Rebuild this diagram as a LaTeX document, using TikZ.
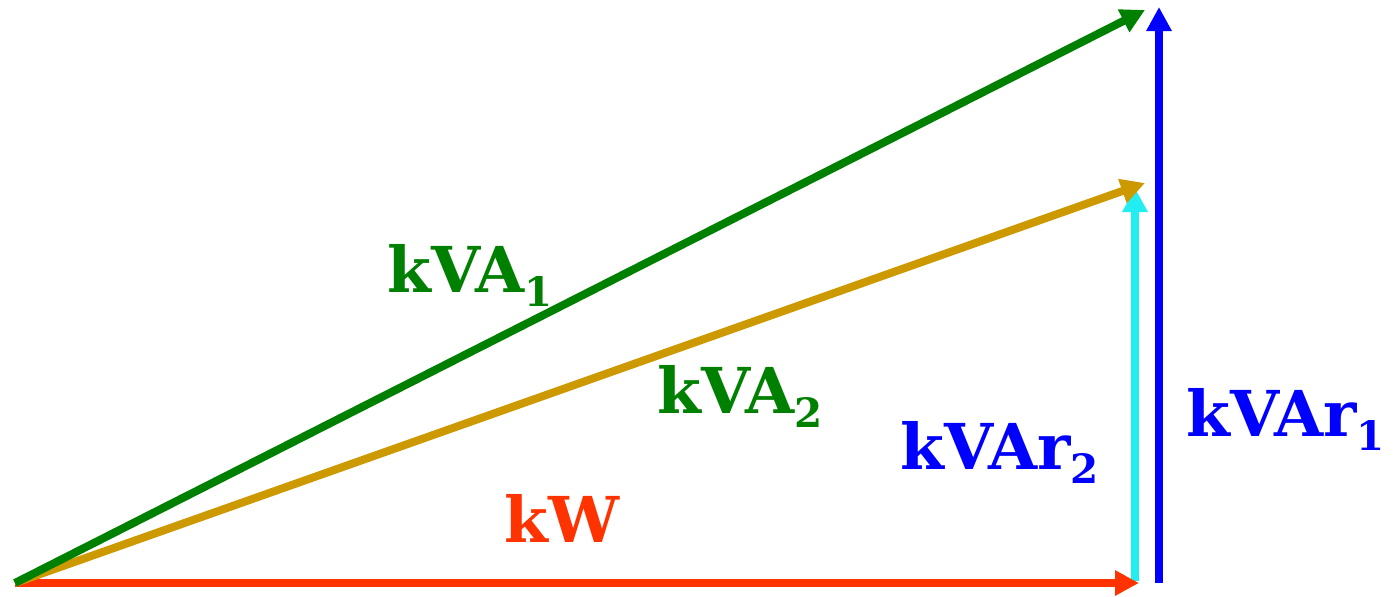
\documentclass[tikz,border=0pt]{standalone}
\usepackage{fontspec}
\setmainfont{DejaVu Serif}
\usetikzlibrary{arrows.meta}
\definecolor{VecGreen}{HTML}{008000}
\definecolor{VecGold}{HTML}{CC9900}
\definecolor{VecRed}{HTML}{FF3300}
\definecolor{VecCyan}{HTML}{22EEF2}
\definecolor{VecBlue}{HTML}{0000FF}
\newcommand{\lowidx}[1]{\raisebox{-8.5pt}{\fontsize{23pt}{23pt}\selectfont #1}}

\begin{document}
\begin{tikzpicture}[x=0.02cm,y=-0.02cm,
  vec/.style={line width=0.16cm,-{Triangle[length=0.48cm,width=0.48cm]}},
  lbl/.style={anchor=base west,inner sep=0pt,
              font=\fontsize{36pt}{36pt}\selectfont\bfseries}
]
  \useasboundingbox (0,0) rectangle (1393,596);
  \coordinate (O) at (15,583);
  \coordinate (kwend) at (1139,583);
  \coordinate (kvaonetip) at (1145,10);
  \coordinate (kvatwotip) at (1145,183);
  \coordinate (qtwobase) at (1135,581);
  \coordinate (qtwotip) at (1135,188);
  \coordinate (qonebase) at (1159,583);
  \coordinate (qonetip) at (1159,7);
  \draw[vec,VecCyan] (qtwobase)--(qtwotip);
  \draw[vec,VecBlue] (qonebase)--(qonetip);
  \draw[vec,VecRed] (O)--(kwend);
  \draw[vec,VecGold] (O)--(kvatwotip);
  \draw[vec,VecGreen] (O)--(kvaonetip);
  \node[lbl,text=VecGreen] (kvaone) at (387,292) {kVA\lowidx{1}};
  \node[lbl,text=VecGreen] (kvatwo) at (657,413) {kVA\lowidx{2}};
  \node[lbl,text=VecRed] (kw) at (504,542) {kW};
  \node[lbl,text=VecBlue] (kvartwo) at (900,469) {kVAr\lowidx{2}};
  \node[lbl,text=VecBlue] (kvarone) at (1186,436) {kVAr\lowidx{1}};
\end{tikzpicture}
\end{document}
